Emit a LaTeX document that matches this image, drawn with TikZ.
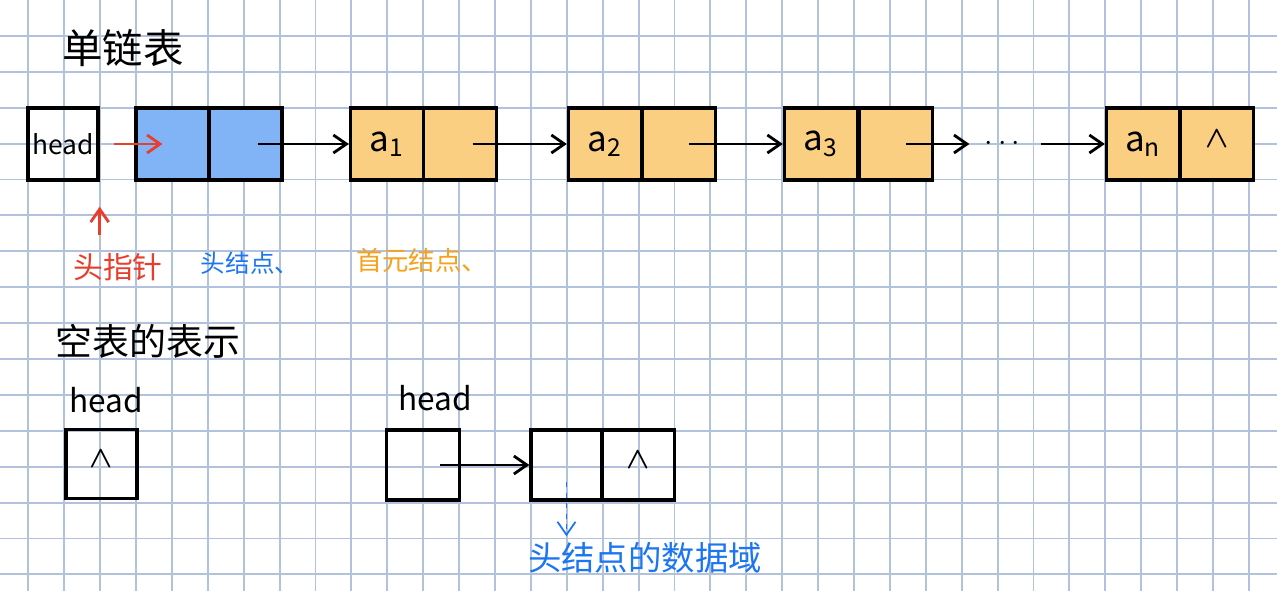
\documentclass[tikz,border=0pt]{standalone}
\usepackage{fontspec}
\newfontfamily\cjk{Noto Sans CJK SC}
\usetikzlibrary{arrows.meta,positioning}
\definecolor{gridblue}{RGB}{178,193,220}
\definecolor{headblue}{RGB}{128,180,246}
\definecolor{nodeorange}{RGB}{251,207,130}
\definecolor{penred}{RGB}{232,62,44}
\definecolor{penblue}{RGB}{28,118,242}
\definecolor{penorange}{RGB}{246,162,28}
\tikzset{
    gridline/.style = {draw = gridblue, line width = 1.1pt},
    cell/.style = {draw, line width = 1.9pt, minimum width = 1.46cm, minimum height = 1.44cm, inner sep = 0pt, font = \cjk\fontsize{20}{22}\selectfont},
    link/.style = {-{Straight Barb[length=2.6mm, width=3.6mm]}, line width = 1.6pt},
    redlink/.style = {link, draw = penred},
    dashlink/.style = {-{Straight Barb[length=2.6mm, width=3.6mm]}, draw = penblue, line width = 1pt, dashed},
    title/.style = {font = \cjk\fontsize{23}{25}\selectfont},
    note/.style = {font = \cjk\fontsize{15}{17}\selectfont}
}
\newcommand{\nil}{\raisebox{0.5ex}{\fontsize{17}{19}\selectfont$\boldsymbol{\wedge}$}}
\usepackage{amsmath}
\begin{document}
\begin{tikzpicture}[x = 0.02cm, y = -0.02cm]
            \useasboundingbox [fill = white] (0,0) rectangle (1277,591);
            %grid
            \foreach \i in {0,...,34}
                \draw [gridline] ({28.3+35.9*\i},0) -- ({28.3+35.9*\i},591);
            \foreach \j in {1,...,16}
                \draw [gridline] (0,{35.9*\j}) -- (1277,{35.9*\j});

            %Single linked list
            \node [title] (t1)at(123,48){单链表};
            \node [cell, minimum width = 1.4cm, font = \cjk\fontsize{15}{17}\selectfont] (head)at(63,144){head};
            %Head node
            \node [cell, fill = headblue] (hd)at(172.5,144){};
            \node [cell, fill = headblue] (hp)at(245.5,144){};
            %a1 ... an
            \node [cell, fill = nodeorange] (a1d)at(387,144){a\textsubscript{1}};
            \node [cell, fill = nodeorange] (a1p)at(460,144){};
            \node [cell, fill = nodeorange] (a2d)at(605,144){a\textsubscript{2}};
            \node [cell, fill = nodeorange] (a2p)at(679,144){};
            \node [cell, fill = nodeorange] (a3d)at(821,144){a\textsubscript{3}};
            \node [cell, fill = nodeorange] (a3p)at(896,144){};
            \node [inner sep = 0.3cm, font = \fontsize{17}{19}\selectfont] (dots)at(1005,144){$\cdots$};
            \node [cell, fill = nodeorange] (and)at(1143,144){a\textsubscript{n}};
            \node [cell, fill = nodeorange] (anp)at(1217,144){\nil};

            \draw [redlink, shorten <= 0.28cm, shorten >= 0.2cm](head.east)--(hd.center);
            \draw [link, shorten <= 0.25cm](hp.center)--(a1d.west);
            \draw [link, shorten <= 0.25cm](a1p.center)--(a2d.west);
            \draw [link, shorten <= 0.2cm](a2p.center)--(a3d.west);
            \draw [link, shorten <= 0.2cm](a3p.center)--(dots.west);
            \draw [link](dots.east)--(and.west);

            %Labels
            \node [note, text = penred, font = \cjk\fontsize{17}{19}\selectfont] (hptr)at(118,267){头指针};
            \node [note, text = penblue, font = \cjk\fontsize{14}{16}\selectfont] (hnode)at(250,263){头结点、};
            \node [note, text = penorange] (fnode)at(422,260){首元结点、};
            \draw [redlink]([yshift = -1.06cm]head.south east)--([yshift = -0.5cm]head.south east);

            %Empty list
            \node [title, font = \cjk\fontsize{21}{23}\selectfont] (t2)at(148,341){空表的表示};
            \node [title, font = \cjk\fontsize{18}{20}\selectfont] (h1)at(106,400){head};
            \node [cell, minimum width = 1.42cm, minimum height = 1.38cm] (eh)at(101.5,464){\nil};
            \node [title, font = \cjk\fontsize{18}{20}\selectfont] (h2)at(435,398){head};
            \node [cell, minimum height = 1.4cm] (hb)at(423,465){};
            \node [cell, minimum width = 1.42cm, minimum height = 1.4cm] (ed)at(566.5,465){};
            \node [cell, minimum height = 1.4cm] (ep)at(638,465){\nil};
            \node [note, text = penblue, font = \cjk\fontsize{19}{21}\selectfont] (dlbl)at(645,558){头结点的数据域};

            \draw [link, shorten <= 0.34cm](hb.center)--(ed.west);
            \draw [dashlink]([yshift = -0.34cm]ed.center)--(ed.center |- dlbl.north);

        \end{tikzpicture}
\end{document}
